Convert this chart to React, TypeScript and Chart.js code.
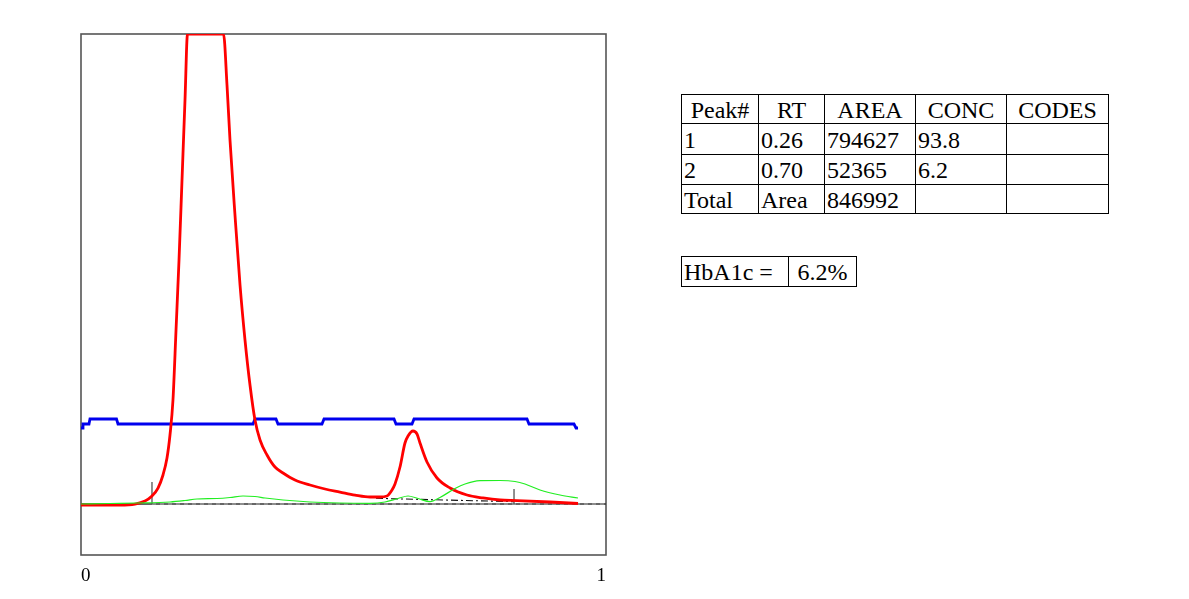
import React, { useEffect, useRef } from "react";
import { Chart, registerables } from "chart.js";

Chart.register(...registerables);

// ---- Chromatogram data (x = retention fraction 0..1, y = signal, baseline = 0) ----
const redTime = [0, 0.0743, 0.1029, 0.1219, 0.1352, 0.1467, 0.1562, 0.1638, 0.1695, 0.1752, 0.181, 0.1867, 0.1924, 0.1981, 0.2029, 0.2714, 0.2781, 0.2838, 0.2933, 0.3029, 0.3124, 0.3219, 0.3314, 0.341, 0.3543, 0.3695, 0.3848, 0.4076, 0.4362, 0.4648, 0.4933, 0.5219, 0.5505, 0.5695, 0.5829, 0.5924, 0.5981, 0.6076, 0.6171, 0.6229, 0.6324, 0.64, 0.6457, 0.659, 0.6781, 0.7029, 0.7352, 0.7657, 0.7981, 0.8305, 0.8933, 0.9467];
const redSignal = [-0.21, -0.21, 0, 0.64, 1.7, 3.4, 6.17, 9.79, 14.68, 22.13, 37.02, 51.91, 68.94, 85.96, 100, 100, 89.15, 77.45, 61.49, 46.6, 34.89, 25.32, 17.87, 13.62, 10.43, 7.87, 6.6, 5.11, 4.04, 3.19, 2.55, 1.91, 1.49, 1.49, 1.7, 2.98, 4.26, 7.87, 12.98, 14.47, 15.53, 14.89, 12.98, 8.94, 5.53, 3.4, 1.91, 1.28, 0.85, 0.74, 0.43, 0.11];

const greenTime = [0, 0.0552, 0.1067, 0.1695, 0.1981, 0.221, 0.259, 0.2838, 0.3086, 0.3314, 0.3505, 0.3848, 0.4362, 0.4933, 0.5505, 0.579, 0.6038, 0.6229, 0.6419, 0.6648, 0.6838, 0.7124, 0.7314, 0.76, 0.7981, 0.8267, 0.8457, 0.8743, 0.9124, 0.9467];
const greenSignal = [0, 0.11, 0.21, 0.43, 0.74, 1.06, 1.17, 1.38, 1.7, 1.6, 1.28, 0.85, 0.43, 0.21, 0.15, 0.43, 1.17, 1.7, 1.17, 0.49, 1.38, 3.3, 4.26, 4.96, 5.0, 4.79, 4.26, 2.98, 1.91, 1.28];

const blueTime = [0, 0.0038, 0.0038, 0.0152, 0.0171, 0.0676, 0.0705, 0.3276, 0.3314, 0.3714, 0.3752, 0.459, 0.4629, 0.5962, 0.6, 0.6305, 0.6343, 0.8495, 0.8533, 0.939, 0.9429, 0.9467];
const blueSignal = [16.17, 16.17, 17.02, 17.02, 18.09, 18.09, 17.02, 17.02, 18.09, 18.09, 17.02, 17.02, 18.09, 18.09, 17.02, 17.02, 18.09, 18.09, 17.02, 17.02, 16.17, 16.17];

const baselineTime = [0, 1];
const baselineSignal = [0, 0];
const integrationTime = [0.1352, 1];
const integrationSignal = [0, 0];
const peak2BaseTime = [0.5619, 0.8248];
const peak2BaseSignal = [1.21, 0.49];
const markerTimes = [0.1352, 0.8248];
const markerHeights = [4.68, 3.19];

const xTickValues = [0, 1];
const xTickLabels = ["0", "1"];

// ---- Result table ----
const tableHeaders = ["Peak#", "RT", "AREA", "CONC", "CODES"];
const peakNumbers = ["1", "2", "Total"];
const retentionTimes = ["0.26", "0.70", "Area"];
const peakAreas = ["794627", "52365", "846992"];
const peakConcs = ["93.8", "6.2", ""];
const peakCodes = ["", "", ""];
const resultLabel = "HbA1c =";
const resultValue = "6.2%";

const toPoints = (xs: number[], ys: number[]) => xs.map((x, i) => ({ x, y: ys[i] }));

const framePlugin = {
  id: "frame",
  beforeDatasetsDraw(chart: any) {
    const { ctx, chartArea } = chart;
    ctx.save();
    ctx.strokeStyle = "#555";
    ctx.lineWidth = 1.6;
    ctx.strokeRect(chartArea.left, chartArea.top, chartArea.right - chartArea.left, chartArea.bottom - chartArea.top);
    ctx.restore();
  },
};

function ChromChart() {
  const ref = useRef<HTMLCanvasElement | null>(null);
  useEffect(() => {
    if (!ref.current) return;
    const markerData: any[] = [];
    markerTimes.forEach((t, i) => {
      markerData.push({ x: t, y: 0 }, { x: t, y: markerHeights[i] }, { x: NaN, y: NaN });
    });
    const chart = new Chart(ref.current, {
      type: "line",
      data: {
        datasets: [
          { data: toPoints(greenTime, greenSignal), borderColor: "#22ee22", borderWidth: 1.2, pointRadius: 0, cubicInterpolationMode: "monotone" },
          { data: toPoints(redTime, redSignal), borderColor: "#ff0000", borderWidth: 2.8, pointRadius: 0, cubicInterpolationMode: "monotone" },
          { data: toPoints(blueTime, blueSignal), borderColor: "#0000ee", borderWidth: 2.8, pointRadius: 0, tension: 0 },
          { data: markerData, borderColor: "#555", borderWidth: 1.3, pointRadius: 0, spanGaps: false },
          { data: toPoints(peak2BaseTime, peak2BaseSignal), borderColor: "#111", borderWidth: 1.1, borderDash: [7, 3, 2, 3], pointRadius: 0 },
          { data: toPoints(integrationTime, integrationSignal), borderColor: "#999", borderWidth: 1.6, borderDash: [4, 4], pointRadius: 0 },
          { data: toPoints(baselineTime, baselineSignal), borderColor: "#333", borderWidth: 1.6, pointRadius: 0 },
        ] as any,
      },
      options: {
        animation: false,
        responsive: true,
        maintainAspectRatio: false,
        layout: { padding: { left: 81, top: 34, right: 34, bottom: 0 } },
        plugins: { legend: { display: false }, tooltip: { enabled: false } },
        scales: {
          x: {
            type: "linear",
            min: 0,
            max: 1,
            grid: { display: false, drawTicks: false },
            border: { display: false },
            afterBuildTicks: (scale: any) => {
              scale.ticks = xTickValues.map((v) => ({ value: v }));
            },
            afterFit: (scale: any) => {
              scale.height = 44;
            },
            ticks: {
              align: "inner",
              maxRotation: 0,
              autoSkip: false,
              padding: 10,
              color: "#000",
              font: { family: "'Liberation Serif', serif", size: 19 },
              callback: (v: any) => {
                const i = xTickValues.indexOf(Number(v));
                return i >= 0 ? xTickLabels[i] : "";
              },
            },
          },
          y: { type: "linear", display: false, min: -10.85, max: 100 },
        },
      } as any,
      plugins: [framePlugin],
    });
    return () => chart.destroy();
  }, []);
  return (
    <div style={{ position: "absolute", left: 0, top: 0, width: 640, height: 599 }}>
      <canvas ref={ref} />
    </div>
  );
}

const colX = [681, 758, 824, 915, 1006, 1108];
const rowY = [94, 123, 154, 184, 213];

function Cell(props: { x0: number; x1: number; y0: number; y1: number; text: string; center?: boolean }) {
  const { x0, x1, y0, y1, text, center } = props;
  return (
    <div
      style={{
        position: "absolute",
        left: x0,
        top: y0,
        width: x1 - x0 + 1,
        height: y1 - y0 + 1,
        boxSizing: "border-box",
        border: "1px solid #000",
        fontFamily: "'Liberation Serif', serif",
        fontSize: 24,
        lineHeight: `${y1 - y0 - 1}px`,
        paddingLeft: center ? 0 : 2,
        paddingTop: 1,
        textAlign: center ? "center" : "left",
        color: "#000",
        whiteSpace: "nowrap",
        overflow: "hidden",
      }}
    >
      {text}
    </div>
  );
}

export default function App() {
  const rows = peakNumbers.map((p, i) => [p, retentionTimes[i], peakAreas[i], peakConcs[i], peakCodes[i]]);
  return (
    <div style={{ position: "absolute", left: 0, top: 0, width: 1189, height: 599, background: "#fff" }}>
      <ChromChart />
      {tableHeaders.map((h, c) => (
        <Cell key={"h" + c} x0={colX[c]} x1={colX[c + 1]} y0={rowY[0]} y1={rowY[1]} text={h} center />
      ))}
      {rows.map((r, ri) =>
        r.map((t, c) => (
          <Cell key={ri + "-" + c} x0={colX[c]} x1={colX[c + 1]} y0={rowY[ri + 1]} y1={rowY[ri + 2]} text={t} />
        ))
      )}
      <Cell x0={681} x1={788} y0={256} y1={286} text={resultLabel} />
      <Cell x0={788} x1={856} y0={256} y1={286} text={resultValue} center />
    </div>
  );
}
